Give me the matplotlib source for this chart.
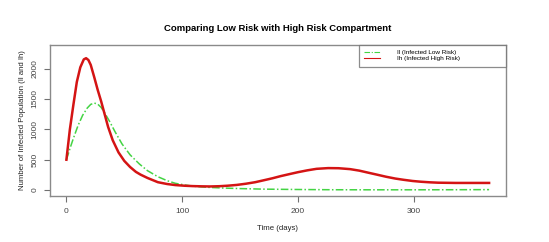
import matplotlib.pyplot as plt

plt.rcParams['font.family'] = ['Liberation Sans', 'DejaVu Sans']

# values (days, infected counts)
t_low = [0, 3, 6, 10, 14, 18, 21, 24, 27, 30, 33, 37, 42, 48, 55, 63, 70, 79, 87, 94,
         102, 109, 117, 124, 135, 150, 170, 200, 230, 260, 300, 330, 365]
il = [500, 680, 850, 1060, 1230, 1350, 1410, 1432, 1415, 1360, 1270, 1140, 960, 760, 580,
      430, 320, 220, 155, 112, 85, 66, 52, 44, 34, 25, 16, 10, 6, 5, 5, 6, 8]

t_high = [0, 3, 6, 9, 12, 15, 17, 19, 21, 24, 27, 30, 33, 36, 40, 45, 50, 55, 60, 64,
          70, 79, 87, 94, 102, 109, 117, 124, 132, 139, 147, 155, 163, 170, 178, 185,
          193, 200, 208, 216, 226, 235, 245, 253, 261, 268, 276, 284, 291, 299, 306,
          314, 321, 336, 350, 365]
ih = [500, 1000, 1400, 1780, 2020, 2150, 2170, 2140, 2060, 1860, 1650, 1460, 1250, 1040,
      820, 620, 480, 380, 300, 255, 200, 130, 100, 83, 72, 66, 62, 60, 64, 72, 85, 105,
      130, 160, 195, 230, 265, 295, 325, 350, 362, 360, 345, 320, 285, 255, 220, 190,
      170, 150, 138, 128, 122, 118, 118, 118]

W, H = 549, 242
fig = plt.figure(figsize=(W / 100, H / 100), dpi=100)
ax = fig.add_axes([49.5 / W, (H - 195.7) / H, (506 - 49.5) / W, (195.7 - 44.7) / H])

ax.plot(t_low, il, color='#44d444', lw=1.1, ls=(0, (5, 1.5, 1, 1.5)),
        label='Il (Infected Low Risk)')
ax.plot(t_high, ih, color='#d41414', lw=1.8, label='Ih (Infected High Risk)')

ax.set_xlim(-14.6, 379.6)
ax.set_ylim(-92, 2392)
ax.set_xticks([0, 100, 200, 300])
ax.set_yticks([0, 500, 1000, 1500, 2000])

for s in ax.spines.values():
    s.set_color('#8a8a8a')
    s.set_linewidth(1.0)
ax.tick_params(direction='out', length=4, width=0.8, color='#707070',
               labelsize=6, labelcolor='#444444')
ax.tick_params(axis='x', pad=5)
ax.tick_params(axis='y', pad=4)
for lab in ax.get_yticklabels():
    lab.set_rotation(90)
    lab.set_va('center')

ax.set_title('Comparing Low Risk with High Risk Compartment', fontsize=6.8,
             fontweight='bold', pad=10)
ax.set_xlabel('Time (days)', fontsize=5.6, labelpad=7, color='#222222')
ax.set_ylabel('Number of Infected Population (Il and Ih)', fontsize=5.6,
              labelpad=4, color='#222222')

x0 = (358.5 - 49.5) / (506 - 49.5)
leg = ax.legend(loc='upper left', bbox_to_anchor=(x0, 0, 1 - x0, 1.0), mode='expand',
                fontsize=4.6, frameon=True, fancybox=False,
                handlelength=2.6, borderaxespad=0, borderpad=0.8,
                labelspacing=0.1, handletextpad=2.6)
leg.get_frame().set_edgecolor('#707070')
leg.get_frame().set_linewidth(0.9)
for line in leg.get_lines():
    line.set_linewidth(0.8)

fig.savefig('out.png', dpi=100, facecolor='white')
